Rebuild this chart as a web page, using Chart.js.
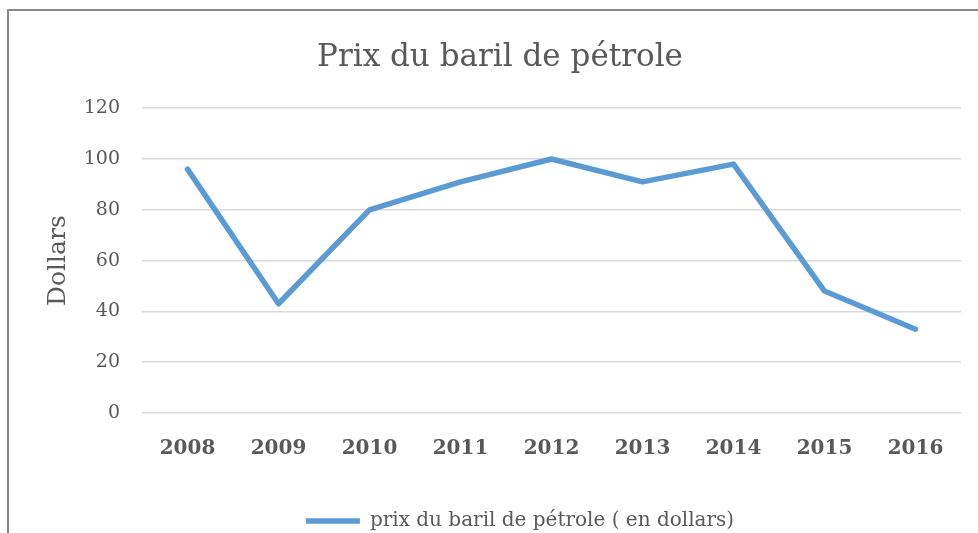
<!DOCTYPE html>
<html>
<head>
<meta charset="utf-8">
<script src="https://cdn.jsdelivr.net/npm/chart.js@4/dist/chart.umd.min.js"></script>
<style>
  html, body { margin: 0; padding: 0; background: #ffffff; overflow: hidden; }
  #wrap { position: relative; width: 978px; height: 533px; overflow: hidden; }
  #box { position: absolute; left: 0; top: 0; width: 978px; height: 560px; }
  #frame { position: absolute; left: 7px; top: 9px; width: 2000px; height: 1000px;
           border-left: 2px solid #878787; border-top: 2px solid #878787; pointer-events: none; }
</style>
</head>
<body>
<div id="wrap">
  <div id="box"><canvas id="c"></canvas></div>
  <div id="frame"></div>
</div>
<script>
const chartTitle = 'Prix du baril de pétrole';
const seriesName = 'prix du baril de pétrole ( en dollars)';
const axisTitle = 'Dollars';
const years = ['2008', '2009', '2010', '2011', '2012', '2013', '2014', '2015', '2016'];
const prices = [96, 43, 80, 91, 100, 91, 98, 48, 33];
const yMin = 0, yMax = 120, yStep = 20;

const textColor = '#595959';
const lineColor = '#5b9bd5';
const serif = "'DejaVu Serif', 'Liberation Serif', serif";

const shiftLegend = {
  id: 'shiftLegend',
  afterLayout(chart) {
    const lg = chart.legend;
    if (lg) { lg.left += 40; }
  }
};

new Chart(document.getElementById('c'), {
  type: 'line',
  data: {
    labels: years,
    datasets: [{
      label: seriesName,
      data: prices,
      borderColor: lineColor,
      backgroundColor: lineColor,
      borderWidth: 5.5,
      borderCapStyle: 'round',
      borderJoinStyle: 'round',
      pointRadius: 0,
      pointHoverRadius: 0,
      tension: 0,
      fill: false
    }]
  },
  options: {
    responsive: true,
    maintainAspectRatio: false,
    animation: false,
    devicePixelRatio: 1,
    layout: { padding: { left: 39, right: 17, top: 39, bottom: 19 } },
    plugins: {
      title: {
        display: true,
        text: chartTitle,
        color: textColor,
        font: { family: serif, size: 31, weight: 'normal' },
        padding: { top: 0, bottom: 32 }
      },
      legend: {
        display: true,
        position: 'bottom',
        labels: {
          color: textColor,
          font: { family: serif, size: 20 },
          usePointStyle: true,
          pointStyle: 'line',
          pointStyleWidth: 54,
          padding: 10
        }
      },
      tooltip: { enabled: false }
    },
    scales: {
      x: {
        offset: true,
        grid: { display: false, drawTicks: false },
        border: { display: false },
        ticks: {
          color: textColor,
          font: { family: serif, size: 20, weight: 'bold' },
          padding: 24,
          maxRotation: 0,
          autoSkip: false
        },
        afterFit(scale) { scale.height = 88; }
      },
      y: {
        min: yMin,
        max: yMax,
        grid: { color: '#d9d9d9', lineWidth: 1.5, drawTicks: false },
        border: { display: false },
        ticks: {
          stepSize: yStep,
          color: textColor,
          font: { family: serif, size: 19 },
          padding: 22
        },
        title: {
          display: true,
          text: axisTitle,
          color: textColor,
          font: { family: serif, size: 25 },
          padding: { top: 4, bottom: 0 }
        },
        afterFit(scale) { scale.width = 103; }
      }
    }
  },
  plugins: [shiftLegend]
});
</script>
</body>
</html>
